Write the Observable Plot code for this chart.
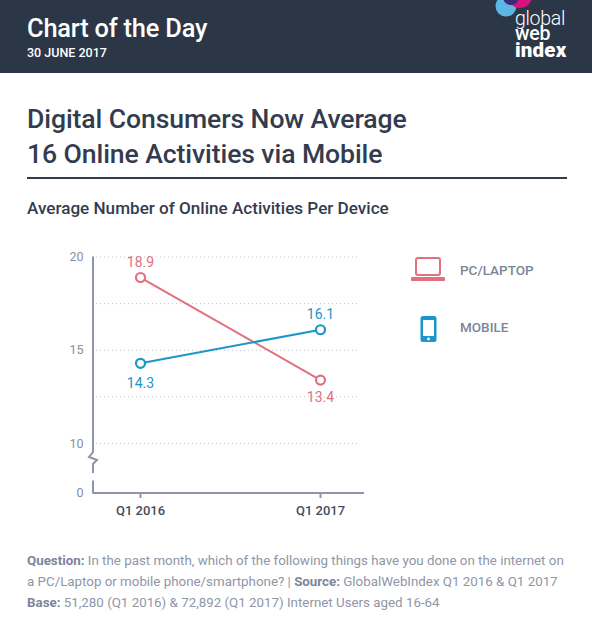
<!DOCTYPE html>
<html><head><meta charset="utf-8">
<script src="https://cdn.jsdelivr.net/npm/d3@7"></script>
<script src="https://cdn.jsdelivr.net/npm/@observablehq/plot@0.6"></script>
<style>
html,body{margin:0;padding:0;background:#fff}
body{width:592px;height:625px;position:relative;overflow:hidden;font-family:Roboto,sans-serif}
.a{position:absolute;white-space:nowrap}
#chart{position:absolute;left:0;top:240px}
#chart svg{overflow:visible}
</style></head><body>
<div class="a" style="left:0;top:0;width:592px;height:73px;background:#2b3647;overflow:hidden">
  <svg width="592" height="73" style="position:absolute;left:0;top:0">
    <circle cx="506" cy="6" r="10.5" fill="#5cb6e6"/>
    <circle cx="520" cy="-4" r="12" fill="#d6127f"/>
    <circle cx="511" cy="-3" r="8" fill="#3b2a78"/>
  </svg>
  <div class="a" style="left:515px;top:11px;height:15px;font:300 19.5px/15px Roboto;color:#fff;letter-spacing:-.3px">global</div>
  <div class="a" style="left:515px;top:27px;height:14px;font:500 19.5px/14px Roboto;color:#fff;letter-spacing:-.2px">web</div>
  <div class="a" style="left:515px;top:43px;height:15px;font:900 20.5px/15px Roboto;color:#fff;letter-spacing:.2px">index</div>
</div>
<div class="a" style="left:27px;top:11px;font:500 25.4px/34px Roboto;color:#fff;letter-spacing:-.2px">Chart of the Day</div>
<div class="a" style="left:27px;top:44px;font:500 12.5px/18px Roboto;color:#fff">30 JUNE 2017</div>
<div class="a" style="left:27px;top:101px;font:500 26.6px/35px Roboto;color:#333c4e;letter-spacing:-.1px">Digital Consumers Now Average<br>16 Online Activities via Mobile</div>
<div class="a" style="left:27px;top:177px;width:540px;height:1.5px;background:#333c4e"></div>
<div class="a" style="left:27px;top:197px;font:500 17.1px/22px Roboto;color:#333c4e">Average Number of Online Activities Per Device</div>
<div id="chart"></div>
<svg class="a" style="left:410px;top:256px" width="40" height="26">
  <rect x="6" y="2" width="24" height="17" rx="2" fill="none" stroke="#e2707f" stroke-width="2"/>
  <rect x="1" y="21" width="34" height="4" rx="1" fill="#e2707f"/>
</svg>
<div class="a" style="left:460px;top:261px;font:500 13.5px/18px Roboto;color:#7d8599">PC/LAPTOP</div>
<svg class="a" style="left:420px;top:315px" width="18" height="28">
  <rect x="0.5" y="1" width="16" height="26" rx="2.5" fill="#1a96c8"/>
  <rect x="3" y="5" width="11" height="16" fill="#fff"/>
  <circle cx="8.5" cy="24" r="1.4" fill="#fff"/>
</svg>
<div class="a" style="left:460px;top:318px;font:500 13.5px/18px Roboto;color:#7d8599">MOBILE</div>
<div class="a" style="left:27px;top:550px;font:400 13.33px/21px Roboto;color:#8f96a6">
<b style="color:#7d8599">Question:</b> In the past month, which of the following things have you done on the internet on<br>
a PC/Laptop or mobile phone/smartphone? | <b style="color:#7d8599">Source:</b> GlobalWebIndex Q1 2016 &amp; Q1 2017<br>
<b style="color:#7d8599">Base:</b> 51,280 (Q1 2016) &amp; 72,892 (Q1 2017) Internet Users aged 16-64</div>
<script>
const quarters = ["Q1 2016", "Q1 2017"];
const pcLaptop = [18.9, 13.4];
const mobile = [14.3, 16.1];
const gridValues = [10, 12.5, 15, 17.5, 20];
const yTickValues = [0, 10, 15, 20];

const pink = "#e2707f", blue = "#1a96c8", axisCol = "#8f93ab";
const rows = (vals) => quarters.map((q, i) => ({q, v: vals[i]}));
const pc = rows(pcLaptop), mb = rows(mobile);

function axisBreak(index, scales, values, dim) {
  const x = dim.marginLeft, yTop = scales.y(20), yBot = scales.y(0);
  const yb = scales.y(10) + 9;
  const p = d3.create("svg:path")
    .attr("fill", "none").attr("stroke", axisCol).attr("stroke-width", 2)
    .attr("d", `M${x},${yTop}V${yb}l-4,5l8,3l-4,4V${yb+21}M${x},${yBot-12}V${yBot+1}`);
  return p.node();
}

const plot = Plot.plot({
  width: 592, height: 290,
  marginLeft: 93, marginRight: 228, marginTop: 16, marginBottom: 37,
  style: {fontFamily: "Roboto,sans-serif", background: "transparent"},
  x: {type: "point", domain: quarters, range: [140, 320], padding: 0, label: null},
  y: {type: "linear", domain: [0, 10, 20], range: [252.5, 203, 16.5], label: null},
  marks: [
    Plot.ruleY(gridValues, {stroke: "#bfc3cc", strokeWidth: 1, strokeDasharray: "1 3", strokeOpacity: 1, insetLeft: 3, insetRight: 4}),
    Plot.ruleY([0], {stroke: axisCol, strokeWidth: 2}),
    axisBreak,
    Plot.axisY({ticks: yTickValues, tickSize: 0, tickPadding: 10, fontSize: 12.5, color: "#8a8fa0", label: null}),
    Plot.axisX({tickSize: 5, tickPadding: 7, fontSize: 13, fontWeight: 500, color: "#454c5c", stroke: axisCol, strokeWidth: 2, label: null}),
    Plot.line(pc, {x: "q", y: "v", stroke: pink, strokeWidth: 2}),
    Plot.line(mb, {x: "q", y: "v", stroke: blue, strokeWidth: 2}),
    Plot.dot(pc, {x: "q", y: "v", r: 4.5, fill: "#fff", stroke: pink, strokeWidth: 2.2}),
    Plot.dot(mb, {x: "q", y: "v", r: 4.5, fill: "#fff", stroke: blue, strokeWidth: 2.2}),
    Plot.text([pc[0]], {x: "q", y: "v", text: d => d.v.toFixed(1), fill: pink, fontSize: 14, dy: -15}),
    Plot.text([pc[1]], {x: "q", y: "v", text: d => d.v.toFixed(1), fill: pink, fontSize: 14, dy: 17}),
    Plot.text([mb[0]], {x: "q", y: "v", text: d => d.v.toFixed(1), fill: blue, fontSize: 14, dy: 20}),
    Plot.text([mb[1]], {x: "q", y: "v", text: d => d.v.toFixed(1), fill: blue, fontSize: 14, dy: -15})
  ]
});
document.getElementById("chart").append(plot);
</script>
</body></html>
